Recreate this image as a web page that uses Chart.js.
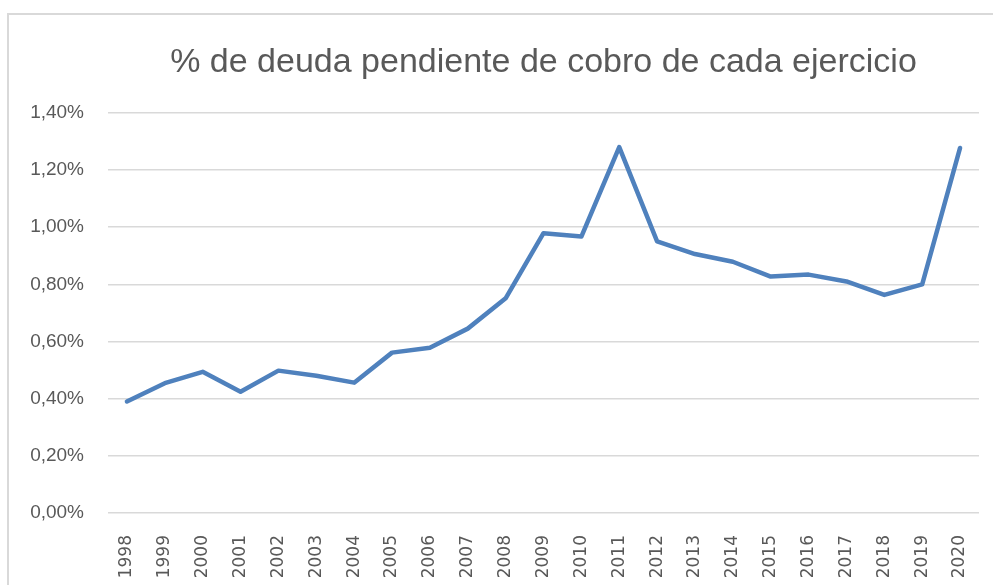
<!DOCTYPE html>
<html>
<head>
<meta charset="utf-8">
<script src="https://cdn.jsdelivr.net/npm/chart.js@4.4.0/dist/chart.umd.min.js"></script>
<style>
    html, body { margin: 0; padding: 0; background: #fff; overflow: hidden; }
    #wrap { width: 993px; height: 585px; position: relative; overflow: hidden; }
</style>
</head>
<body>
<div id="wrap"><canvas id="deudaChart" width="1085" height="585"></canvas></div>
<script>
// Years and % of pending debt
const years = ['1998', '1999', '2000', '2001', '2002', '2003', '2004', '2005', '2006', '2007', '2008',
    '2009', '2010', '2011', '2012', '2013', '2014', '2015', '2016', '2017', '2018', '2019', '2020'];
const deudaPct = [0.39, 0.454, 0.494, 0.424, 0.498, 0.48, 0.456, 0.561, 0.578, 0.645, 0.751,
    0.979, 0.967, 1.28, 0.95, 0.906, 0.879, 0.827, 0.834, 0.81, 0.763, 0.80, 1.277];
const yTicks = [0, 0.2, 0.4, 0.6, 0.8, 1.0, 1.2, 1.4];

const textColor = '#595959';
const gridColor = '#d9d9d9';

// Light frame like the Excel chart area (it runs past the right edge of the window)
const framePlugin = {
    id: 'frame',
    beforeDraw(chart) {
        const c = chart.ctx;
        c.save();
        c.strokeStyle = gridColor;
        c.lineWidth = 2;
        c.beginPath();
        c.moveTo(8, 585);
        c.lineTo(8, 14);
        c.lineTo(chart.width, 14);
        c.stroke();
        c.restore();
    }
};

const ctx = document.getElementById('deudaChart').getContext('2d');
const deudaChart = new Chart(ctx, {
    type: 'line',
    data: {
        labels: years,
        datasets: [{
            label: '% de deuda',
            data: deudaPct,
            borderColor: '#4f81bd',
            borderWidth: 4.5,
            pointRadius: 0,
            tension: 0,
            borderCapStyle: 'round',
            borderJoinStyle: 'round',
            fill: false
        }]
    },
    options: {
        responsive: false,
        animation: false,
        layout: {
            padding: { left: 0, right: 106, top: 0, bottom: 0 }
        },
        plugins: {
            legend: { display: false },
            tooltip: { enabled: false },
            title: {
                display: true,
                fullSize: false, // centre over the plot area, not the whole canvas
                text: '% de deuda pendiente de cobro de cada ejercicio',
                color: textColor,
                font: { family: 'Liberation Sans', size: 34, weight: 'normal', lineHeight: 1.2 },
                padding: { top: 42, bottom: 30 }
            }
        },
        scales: {
            x: {
                offset: true,
                grid: { display: false },
                border: { display: false },
                ticks: {
                    color: textColor,
                    font: { family: 'DejaVu Sans', size: 17 },
                    minRotation: 90,
                    maxRotation: 90,
                    autoSkip: false,
                    padding: 14
                },
                afterFit(scale) { scale.height = 72; }
            },
            y: {
                min: 0,
                max: 1.4,
                afterBuildTicks(scale) {
                    scale.ticks = yTicks.map(v => ({ value: v }));
                },
                grid: { color: gridColor, lineWidth: 1.5, drawTicks: false },
                border: { display: false },
                ticks: {
                    color: textColor,
                    font: { family: 'Liberation Sans', size: 19 },
                    padding: 24,
                    callback: function (value) {
                        return value.toFixed(2).replace('.', ',') + '%';
                    }
                },
                afterFit(scale) { scale.width = 108; }
            }
        }
    },
    plugins: [framePlugin]
});
</script>
</body>
</html>
